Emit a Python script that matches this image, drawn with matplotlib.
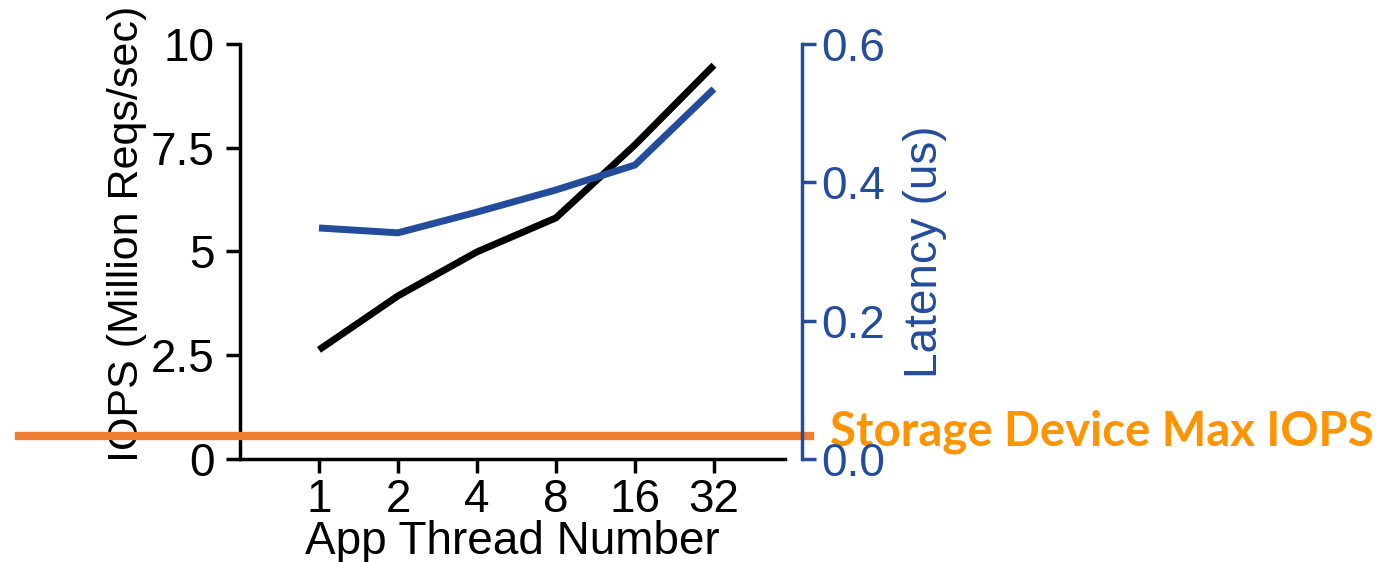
import matplotlib.pyplot as plt

threads = ["1", "2", "4", "8", "16", "32"]
iops = [2.63, 3.93, 4.99, 5.81, 7.57, 9.49]
latency = [0.334, 0.327, 0.357, 0.389, 0.425, 0.535]
max_iops = 0.55

blue = "#234d9c"
plt.rcParams["font.family"] = ["Liberation Sans", "DejaVu Sans"]
plt.rcParams["font.size"] = 33

fig = plt.figure(figsize=(13.84, 5.62), dpi=100)
ax = fig.add_axes([0.1734, 0.1833, 0.3938, 0.7384])
ax2 = ax.twinx()

x = list(range(len(threads)))
ax.plot(x, iops, color="black", lw=5, solid_capstyle="butt")
ax2.plot(x, latency, color=blue, lw=5, solid_capstyle="butt")

ax.set_xlim(-1, 5.9)
ax.set_ylim(0, 10)
ax2.set_ylim(0, 0.6)
ax.set_xticks(x)
ax.set_xticklabels(threads)
ax.set_yticks([0, 2.5, 5, 7.5, 10])
ax.set_yticklabels(["0", "2.5", "5", "7.5", "10"])
ax2.set_yticks([0, 0.2, 0.4, 0.6])
ax2.set_yticklabels(["0.0", "0.2", "0.4", "0.6"])

for a in (ax, ax2):
    a.spines["top"].set_visible(False)
    for s in a.spines.values():
        s.set_linewidth(2.5)
ax.spines["right"].set_visible(False)
ax2.spines["left"].set_visible(False)
ax2.spines["bottom"].set_visible(False)
ax2.spines["right"].set_color(blue)
ax2.spines["right"].set_position(("outward", 12))

ax.tick_params(axis="both", length=10, width=2.5, pad=4)
ax.tick_params(axis="y", pad=8)
ax2.tick_params(axis="y", length=10, width=2.5, pad=4, colors=blue)

ax.set_xlabel("App Thread Number", labelpad=-2)
ax.set_ylabel("IOPS (Million Reqs/sec)", fontsize=31)
ax.yaxis.set_label_coords(-0.171, 0.542)
ax2.set_ylabel("Latency (us)", color=blue, labelpad=13)

# storage device limit, drawn past the axes on both sides
ax.axhline(max_iops, xmin=-0.405, xmax=1.046, color="#ed7d31", lw=6, clip_on=False, zorder=5)
ax.annotate("Storage Device Max IOPS", xy=(1.083, max_iops), xycoords=ax.get_yaxis_transform(),
            xytext=(0, -7), textcoords="offset points",
            color="#ff9300", fontsize=34, fontweight="bold", family="Lato",
            ha="left", va="baseline", annotation_clip=False)

fig.savefig("out.png", dpi=100)
